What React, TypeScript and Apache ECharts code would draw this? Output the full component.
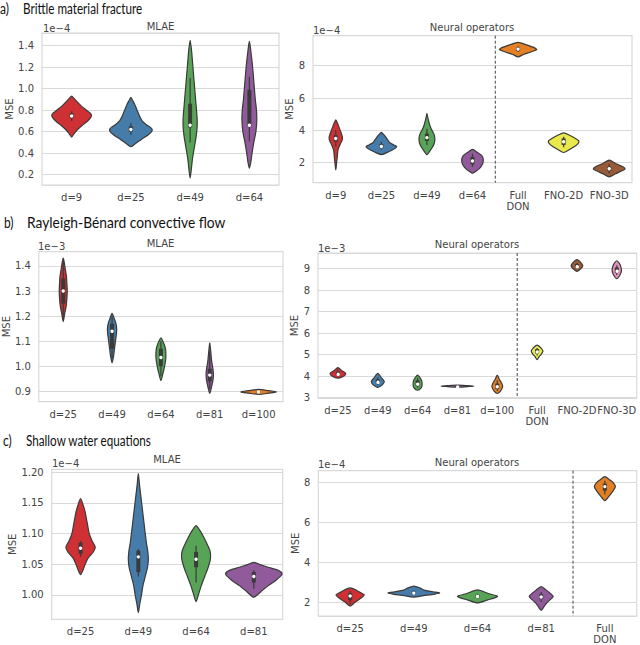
import React, { useEffect, useRef } from "react";
import * as echarts from "echarts";

// ---------------- DATA ----------------
// profiles: [value, half-width as fraction of category band]; boxes: [whiskerLow, q1, median, q3, whiskerHigh]

// a) Brittle material fracture — MLAE (×1e-4)
const aMlaeCats = ["d=9", "d=25", "d=49", "d=64"];
const aMlaeProfiles = [
  [[0.55, 0], [0.58, 0.04], [0.62, 0.1], [0.66, 0.18], [0.7, 0.27], [0.73, 0.32], [0.75, 0.335], [0.77, 0.32], [0.8, 0.25], [0.84, 0.16], [0.88, 0.09], [0.91, 0.04], [0.93, 0]],
  [[0.46, 0], [0.49, 0.08], [0.53, 0.18], [0.57, 0.29], [0.6, 0.35], [0.62, 0.36], [0.64, 0.33], [0.67, 0.25], [0.7, 0.19], [0.74, 0.15], [0.78, 0.12], [0.82, 0.09], [0.86, 0.06], [0.89, 0.03], [0.92, 0]],
  [[0.17, 0], [0.25, 0.02], [0.35, 0.04], [0.45, 0.07], [0.55, 0.1], [0.62, 0.115], [0.68, 0.12], [0.75, 0.115], [0.85, 0.1], [0.95, 0.085], [1.05, 0.07], [1.15, 0.055], [1.25, 0.04], [1.35, 0.025], [1.45, 0]],
  [[0.26, 0], [0.32, 0.025], [0.4, 0.045], [0.5, 0.075], [0.6, 0.11], [0.7, 0.125], [0.8, 0.12], [0.9, 0.1], [1.0, 0.085], [1.1, 0.07], [1.2, 0.055], [1.3, 0.035], [1.38, 0.018], [1.44, 0]],
];
const aMlaeBoxes = [
  [0.7, 0.73, 0.745, 0.77, 0.79],
  [0.57, 0.6, 0.62, 0.65, 0.68],
  [0.5, 0.64, 0.66, 0.86, 1.1],
  [0.51, 0.65, 0.66, 0.99, 1.11],
];

// a) Neural operators (×1e-4)
const aNoCats = ["d=9", "d=25", "d=49", "d=64", "Full\nDON", "FNO-2D", "FNO-3D"];
const aNoProfiles = [
  [[1.55, 0], [1.9, 0.015], [2.3, 0.03], [2.8, 0.05], [3.1, 0.09], [3.4, 0.14], [3.6, 0.145], [3.9, 0.11], [4.2, 0.07], [4.45, 0.035], [4.65, 0]],
  [[2.5, 0], [2.62, 0.12], [2.75, 0.22], [2.9, 0.31], [3.0, 0.335], [3.1, 0.27], [3.25, 0.18], [3.45, 0.13], [3.65, 0.08], [3.8, 0.03], [3.88, 0]],
  [[2.5, 0], [2.7, 0.06], [2.95, 0.12], [3.2, 0.16], [3.5, 0.175], [3.8, 0.15], [4.05, 0.1], [4.3, 0.065], [4.6, 0.035], [4.85, 0.015], [5.05, 0]],
  [[1.35, 0], [1.5, 0.09], [1.7, 0.17], [1.95, 0.225], [2.2, 0.237], [2.45, 0.2], [2.65, 0.1], [2.82, 0]],
  [[8.55, 0], [8.7, 0.12], [8.85, 0.28], [9.0, 0.41], [9.15, 0.33], [9.3, 0.18], [9.45, 0]],
  [[2.63, 0], [2.8, 0.12], [3.0, 0.24], [3.2, 0.32], [3.35, 0.333], [3.5, 0.26], [3.7, 0.13], [3.85, 0]],
  [[1.12, 0], [1.3, 0.13], [1.5, 0.28], [1.62, 0.35], [1.75, 0.3], [1.95, 0.14], [2.16, 0]],
];
const aNoBoxes = [
  [3.0, 3.3, 3.5, 3.7, 4.0],
  [2.8, 2.9, 3.0, 3.15, 3.3],
  [3.1, 3.35, 3.55, 3.8, 4.1],
  [1.75, 1.9, 2.1, 2.35, 2.55],
  [8.85, 8.93, 9.03, 9.12, 9.2],
  [2.95, 3.1, 3.3, 3.5, 3.6],
  [1.35, 1.5, 1.62, 1.75, 1.9],
];

// b) Rayleigh-Bénard — MLAE (×1e-3)
const bMlaeCats = ["d=25", "d=49", "d=64", "d=81", "d=100"];
const bMlaeProfiles = [
  [[1.178, 0], [1.21, 0.03], [1.24, 0.06], [1.27, 0.075], [1.3, 0.082], [1.33, 0.075], [1.36, 0.065], [1.39, 0.04], [1.415, 0.02], [1.431, 0]],
  [[1.014, 0], [1.04, 0.03], [1.07, 0.05], [1.1, 0.07], [1.13, 0.09], [1.15, 0.095], [1.17, 0.08], [1.19, 0.045], [1.211, 0]],
  [[0.943, 0], [0.97, 0.04], [1.0, 0.075], [1.03, 0.1], [1.06, 0.1], [1.08, 0.08], [1.1, 0.04], [1.114, 0]],
  [[0.892, 0], [0.92, 0.04], [0.95, 0.07], [0.97, 0.075], [0.99, 0.065], [1.02, 0.04], [1.05, 0.025], [1.075, 0.012], [1.094, 0]],
  [[0.888, 0], [0.893, 0.2], [0.898, 0.364], [0.903, 0.2], [0.908, 0]],
];
const bMlaeBoxes = [
  [1.19, 1.25, 1.3, 1.35, 1.42],
  [1.03, 1.07, 1.14, 1.17, 1.2],
  [0.96, 1.0, 1.035, 1.07, 1.1],
  [0.91, 0.94, 0.965, 0.99, 1.06],
  [0.893, 0.896, 0.898, 0.9, 0.903],
];

// b) Neural operators (×1e-3)
const bNoCats = ["d=25", "d=49", "d=64", "d=81", "d=100", "Full\nDON", "FNO-2D", "FNO-3D"];
const bNoProfiles = [
  [[3.9, 0], [4.0, 0.15], [4.12, 0.197], [4.25, 0.1], [4.39, 0]],
  [[3.47, 0], [3.6, 0.12], [3.75, 0.163], [3.9, 0.1], [4.12, 0]],
  [[3.34, 0], [3.45, 0.09], [3.6, 0.113], [3.8, 0.1], [3.95, 0.05], [4.04, 0]],
  [[3.48, 0], [3.51, 0.25], [3.53, 0.41], [3.555, 0.25], [3.58, 0]],
  [[3.19, 0], [3.3, 0.08], [3.45, 0.125], [3.55, 0.134], [3.7, 0.1], [3.85, 0.05], [4.05, 0]],
  [[4.76, 0], [4.9, 0.05], [5.0, 0.1], [5.15, 0.147], [5.3, 0.1], [5.44, 0]],
  [[8.87, 0], [9.0, 0.1], [9.13, 0.147], [9.27, 0.1], [9.41, 0]],
  [[8.53, 0], [8.7, 0.08], [8.9, 0.117], [9.1, 0.1], [9.25, 0.06], [9.36, 0]],
];
const bNoBoxes = [
  [4.0, 4.05, 4.12, 4.2, 4.3],
  [3.6, 3.68, 3.75, 3.85, 3.95],
  [3.45, 3.55, 3.65, 3.8, 3.9],
  [3.51, 3.52, 3.53, 3.54, 3.55],
  [3.3, 3.4, 3.5, 3.65, 3.8],
  [4.95, 5.05, 5.15, 5.25, 5.3],
  [9.0, 9.08, 9.13, 9.2, 9.25],
  [8.7, 8.8, 8.92, 9.05, 9.15],
];

// c) Shallow water — MLAE (×1e-4)
const cMlaeCats = ["d=25", "d=49", "d=64", "d=81"];
const cMlaeProfiles = [
  [[1.033, 0], [1.04, 0.04], [1.05, 0.08], [1.06, 0.13], [1.07, 0.22], [1.078, 0.254], [1.088, 0.2], [1.1, 0.15], [1.115, 0.12], [1.125, 0.1], [1.135, 0.08], [1.145, 0.05], [1.157, 0]],
  [[0.971, 0], [0.985, 0.025], [1.0, 0.055], [1.015, 0.08], [1.03, 0.12], [1.045, 0.16], [1.058, 0.173], [1.07, 0.165], [1.085, 0.14], [1.1, 0.12], [1.12, 0.095], [1.14, 0.07], [1.16, 0.045], [1.18, 0.02], [1.198, 0]],
  [[0.989, 0], [1.0, 0.04], [1.015, 0.09], [1.03, 0.15], [1.045, 0.21], [1.06, 0.25], [1.072, 0.24], [1.085, 0.18], [1.098, 0.11], [1.106, 0.06], [1.113, 0]],
  [[0.996, 0], [1.005, 0.12], [1.015, 0.25], [1.025, 0.4], [1.034, 0.49], [1.04, 0.42], [1.045, 0.25], [1.049, 0.12], [1.053, 0]],
];
const cMlaeBoxes = [
  [1.062, 1.067, 1.076, 1.085, 1.088],
  [1.03, 1.037, 1.062, 1.072, 1.075],
  [1.02, 1.045, 1.058, 1.07, 1.08],
  [1.01, 1.02, 1.03, 1.037, 1.04],
];

// c) Neural operators (×1e-4)
const cNoCats = ["d=25", "d=49", "d=64", "d=81", "Full\nDON"];
const cNoProfiles = [
  [[1.8, 0], [2.0, 0.08], [2.2, 0.17], [2.36, 0.222], [2.5, 0.15], [2.71, 0]],
  [[2.25, 0], [2.32, 0.15], [2.4, 0.33], [2.46, 0.405], [2.52, 0.3], [2.6, 0.16], [2.7, 0.1], [2.8, 0]],
  [[1.96, 0], [2.1, 0.15], [2.28, 0.316], [2.42, 0.18], [2.61, 0]],
  [[1.58, 0], [1.8, 0.05], [2.0, 0.1], [2.2, 0.17], [2.3, 0.188], [2.45, 0.14], [2.6, 0.08], [2.78, 0]],
  [[7.09, 0], [7.3, 0.06], [7.55, 0.12], [7.8, 0.165], [8.0, 0.13], [8.15, 0.07], [8.3, 0]],
];
const cNoBoxes = [
  [1.9, 2.1, 2.3, 2.45, 2.55],
  [2.35, 2.4, 2.45, 2.52, 2.58],
  [2.15, 2.22, 2.28, 2.35, 2.42],
  [2.0, 2.15, 2.25, 2.4, 2.5],
  [7.4, 7.6, 7.8, 7.95, 8.1],
];

// ---------------- STYLE ----------------
const RED = "#cf3034";
const BLUE = "#467ca9";
const GREEN = "#58a456";
const PURPLE = "#905a9b";
const ORANGE = "#e38024";
const YELLOW = "#e9e94c";
const BROWN = "#985a37";
const PINK = "#e690bf";
const EDGE = "#3a3a3a";
const TEXT = "#444444";
const GRIDC = "#d9d9d9";
const FONT = "'DejaVu Sans', sans-serif";
const TITLE_FONT = "Lato, 'Open Sans', sans-serif";

type Panel = {
  cats: string[];
  profiles: number[][][];
  boxes: number[][];
  colors: string[];
  grid: { left: number; top: number; width: number; height: number };
  min: number;
  max: number;
  iv: number;
  dec: number;
  nameGap: number;
  split?: number;
};

const panels: Panel[] = [
  { cats: aMlaeCats, profiles: aMlaeProfiles, boxes: aMlaeBoxes, colors: [RED, BLUE, GREEN, PURPLE],
    grid: { left: 42, top: 33, width: 237, height: 152 }, min: 0.104, max: 1.518, iv: 0.2, dec: 1, nameGap: 24 },
  { cats: aNoCats, profiles: aNoProfiles, boxes: aNoBoxes, colors: [RED, BLUE, GREEN, PURPLE, ORANGE, YELLOW, BROWN],
    grid: { left: 313, top: 35.7, width: 319, height: 147 }, min: 0.76, max: 9.86, iv: 2, dec: 0, nameGap: 17, split: 3 },
  { cats: bMlaeCats, profiles: bMlaeProfiles, boxes: bMlaeBoxes, colors: [RED, BLUE, GREEN, PURPLE, ORANGE],
    grid: { left: 38, top: 251.7, width: 245, height: 150 }, min: 0.859, max: 1.457, iv: 0.1, dec: 1, nameGap: 24 },
  { cats: bNoCats, profiles: bNoProfiles, boxes: bNoBoxes, colors: [RED, BLUE, GREEN, PURPLE, ORANGE, YELLOW, BROWN, PINK],
    grid: { left: 318, top: 253, width: 318.7, height: 145 }, min: 2.98, max: 9.72, iv: 1, dec: 0, nameGap: 16, split: 4 },
  { cats: cMlaeCats, profiles: cMlaeProfiles, boxes: cMlaeBoxes, colors: [RED, BLUE, GREEN, PURPLE],
    grid: { left: 51.7, top: 469.3, width: 231, height: 150 }, min: 0.96, max: 1.205, iv: 0.05, dec: 2, nameGap: 34 },
  { cats: cNoCats, profiles: cNoProfiles, boxes: cNoBoxes, colors: [RED, BLUE, GREEN, PURPLE, ORANGE],
    grid: { left: 318.3, top: 470.7, width: 318.4, height: 146.6 }, min: 1.3, max: 8.6, iv: 2, dec: 0, nameGap: 17, split: 3 },
];

const labels = [
  { text: "a)", x: 0, y: 8.5, size: 15, font: TITLE_FONT, align: "left", sx: 0.8 },
  { text: "Brittle material fracture", x: 23, y: 8.5, size: 15, font: TITLE_FONT, align: "left", sx: 0.78 },
  { text: "b)", x: 4, y: 222, size: 15, font: TITLE_FONT, align: "left", sx: 0.8 },
  { text: "Rayleigh-Bénard convective flow", x: 27, y: 222, size: 15, font: TITLE_FONT, align: "left", sx: 0.92 },
  { text: "c)", x: 3, y: 440, size: 15, font: TITLE_FONT, align: "left", sx: 0.8 },
  { text: "Shallow water equations", x: 26, y: 440, size: 15, font: TITLE_FONT, align: "left", sx: 0.78 },
  { text: "MLAE", x: 160.5, y: 26, size: 10, font: FONT, align: "center", sx: 1 },
  { text: "Neural operators", x: 472, y: 27, size: 10, font: FONT, align: "center", sx: 1 },
  { text: "MLAE", x: 160.5, y: 243, size: 10, font: FONT, align: "center", sx: 1 },
  { text: "Neural operators", x: 477, y: 244.3, size: 10, font: FONT, align: "center", sx: 1 },
  { text: "MLAE", x: 167, y: 459.3, size: 10, font: FONT, align: "center", sx: 1 },
  { text: "Neural operators", x: 477, y: 462.3, size: 10, font: FONT, align: "center", sx: 1 },
  { text: "1e\u22124", x: 43, y: 28.5, size: 10, font: FONT, align: "left", sx: 1 },
  { text: "1e\u22124", x: 313, y: 30.5, size: 10, font: FONT, align: "left", sx: 1 },
  { text: "1e\u22123", x: 38, y: 246.7, size: 10, font: FONT, align: "left", sx: 1 },
  { text: "1e\u22123", x: 318, y: 248.3, size: 10, font: FONT, align: "left", sx: 1 },
  { text: "1e\u22124", x: 52, y: 463.3, size: 10, font: FONT, align: "left", sx: 1 },
  { text: "1e\u22124", x: 318, y: 464.3, size: 10, font: FONT, align: "left", sx: 1 },
];

function violinRenderer(p: Panel) {
  return (params: any, api: any) => {
    const j = params.dataIndex;
    const prof = p.profiles[j];
    const box = p.boxes[j];
    const band = api.size([1, 0])[0];
    const cx = api.coord([j, box[2]])[0];
    const right = prof.map(([v, w]) => [cx + w * band, api.coord([j, v])[1]]);
    const left = prof
      .slice()
      .reverse()
      .map(([v, w]) => [cx - w * band, api.coord([j, v])[1]]);
    const pts = right.concat(left.slice(1, left.length - 1));
    const y = (v: number) => api.coord([j, v])[1];
    return {
      type: "group",
      children: [
        {
          type: "polygon",
          shape: { points: pts, smooth: 0.25 },
          style: { fill: p.colors[j], stroke: EDGE, lineWidth: 1.2 },
        },
        {
          type: "line",
          shape: { x1: cx, y1: y(box[0]), x2: cx, y2: y(box[4]) },
          style: { stroke: EDGE, lineWidth: 1.2 },
        },
        {
          type: "rect",
          shape: { x: cx - 2, y: y(box[3]), width: 4, height: Math.max(1, y(box[1]) - y(box[3])) },
          style: { fill: EDGE },
        },
        {
          type: "circle",
          shape: { cx, cy: y(box[2]), r: 1.7 },
          style: { fill: "#ffffff" },
        },
      ],
    };
  };
}

function dividerRenderer(p: Panel) {
  return (params: any, api: any) => {
    const s = p.split as number;
    const x0 = api.coord([s, p.min])[0];
    const x1 = api.coord([s + 1, p.min])[0];
    const xm = (x0 + x1) / 2;
    const cs = params.coordSys;
    return {
      type: "line",
      shape: { x1: xm, y1: cs.y, x2: xm, y2: cs.y + cs.height },
      style: { stroke: "#444", lineWidth: 1, lineDash: [3, 2] },
    };
  };
}

export default function App() {
  const ref = useRef<HTMLDivElement>(null);
  useEffect(() => {
    if (!ref.current) return;
    const chart = echarts.init(ref.current, undefined, { renderer: "svg" });
    const grids: any[] = [];
    const xAxes: any[] = [];
    const yAxes: any[] = [];
    const series: any[] = [];
    panels.forEach((p, i) => {
      grids.push({
        ...p.grid,
        show: true,
        borderColor: GRIDC,
        borderWidth: 1.2,
        backgroundColor: "transparent",
        containLabel: false,
      });
      xAxes.push({
        type: "category",
        gridIndex: i,
        data: p.cats,
        axisLine: { show: false },
        axisTick: { show: false },
        splitLine: { show: false },
        axisLabel: { color: TEXT, fontSize: 10, fontFamily: FONT, margin: 7, interval: 0, lineHeight: 11 },
      });
      yAxes.push({
        type: "value",
        gridIndex: i,
        min: p.min,
        max: p.max,
        minInterval: p.iv,
        maxInterval: p.iv,
        axisLine: { show: false },
        axisTick: { show: false },
        splitLine: { show: true, lineStyle: { color: GRIDC, width: 1.2 } },
        axisLabel: {
          color: TEXT,
          fontSize: 10,
          fontFamily: FONT,
          margin: 8,
          showMinLabel: false,
          showMaxLabel: false,
          formatter: (v: number) => v.toFixed(p.dec),
        },
        name: "MSE",
        nameLocation: "middle",
        nameGap: p.nameGap,
        nameTextStyle: { color: TEXT, fontSize: 10, fontFamily: FONT },
      });
      series.push({
        type: "custom",
        xAxisIndex: i,
        yAxisIndex: i,
        data: p.cats.map((_, j) => [j, p.boxes[j][2]]),
        encode: { x: 0, y: 1 },
        renderItem: violinRenderer(p),
        clip: false,
        silent: true,
        z: 3,
      });
      if (p.split !== undefined) {
        series.push({
          type: "custom",
          xAxisIndex: i,
          yAxisIndex: i,
          data: [[p.split, p.min]],
          encode: { x: 0, y: 1 },
          renderItem: dividerRenderer(p),
          silent: true,
          z: 2,
        });
      }
    });
    chart.setOption({
      animation: false,
      backgroundColor: "#ffffff",
      grid: grids,
      xAxis: xAxes,
      yAxis: yAxes,
      series,
      graphic: labels.map((l) => ({
        type: "text",
        x: l.x,
        y: l.y,
        scaleX: l.sx,
        silent: true,
        style: {
          text: l.text,
          fill: l.font === TITLE_FONT ? "#111" : TEXT,
          fontSize: l.size,
          fontFamily: l.font,
          textAlign: l.align,
          textVerticalAlign: "middle",
          align: l.align,
          verticalAlign: "middle",
        },
      })),
    });
    return () => chart.dispose();
  }, []);
  return (
    <div
      ref={ref}
      style={{ position: "absolute", left: 0, top: 0, width: 640, height: 645 }}
    />
  );
}
